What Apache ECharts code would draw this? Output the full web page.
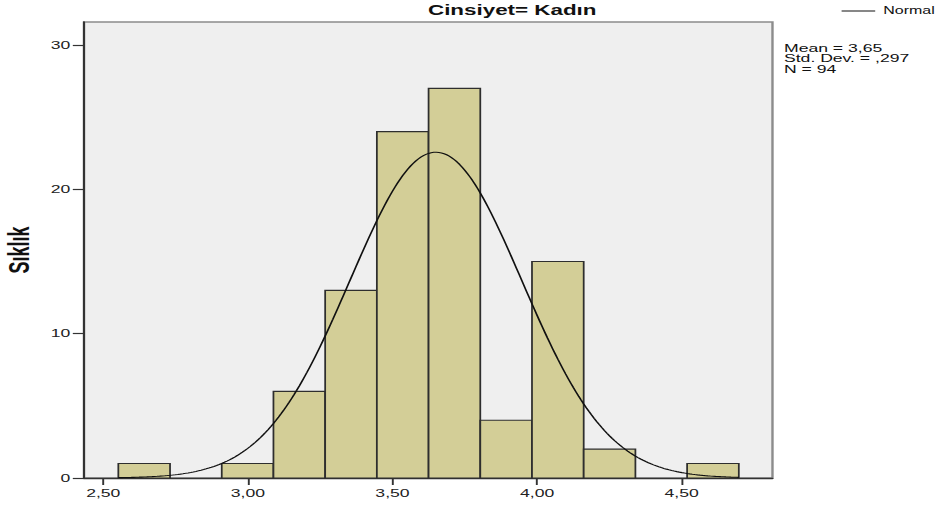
<!DOCTYPE html>
<html>
<head>
<meta charset="utf-8">
<script src="https://cdn.jsdelivr.net/npm/echarts@6/dist/echarts.min.js"></script>
<style>
  html, body { margin: 0; padding: 0; background: #ffffff; overflow: hidden; }
  /* the chart is laid out narrow and widened to the page width */
  #chart { width: 590px; height: 508px; transform: scaleX(1.6); transform-origin: 0 0; }
</style>
</head>
<body>
<div id="chart"></div>
<script>
// Histogram for the "Kadın" group with its fitted normal curve
const groupTitle = 'Cinsiyet= Kadın';
const yAxisName = 'Sıklık';
const binStart = 2.552;
const binWidth = 0.1788;
const binCounts = [1, 0, 1, 6, 13, 24, 27, 4, 15, 2, 0, 1];
const xTickValues = [2.5, 3.0, 3.5, 4.0, 4.5];
const yTickValues = [0, 10, 20, 30];
const meanValue = 3.65;
const stdDevValue = 0.297;
const sampleSize = 94;

const FONT = "'Liberation Sans', Arial, sans-serif";

// [lower edge, upper edge, count] for each bin
const bins = binCounts.map((c, i) => [binStart + i * binWidth, binStart + (i + 1) * binWidth, c]);

// Normal density from the stated mean / std. dev., scaled to the bin counts
const binEnd = binStart + binCounts.length * binWidth;
const peak = sampleSize * binWidth / (stdDevValue * Math.sqrt(2 * Math.PI));
const curve = [];
for (let i = 0; i <= 240; i++) {
  const x = binStart + (binEnd - binStart) * i / 240;
  const z = (x - meanValue) / stdDevValue;
  curve.push([x, peak * Math.exp(-0.5 * z * z)]);
}

const comma = s => s.replace('.', ',');
const statsText = [
  'Mean = ' + comma(meanValue.toFixed(2)),
  'Std. Dev. = ' + comma(stdDevValue.toFixed(3).replace(/^0/, '')),
  'N = ' + sampleSize
].join('\n');

const chart = echarts.init(document.getElementById('chart'), null, { renderer: 'svg' });

chart.setOption({
  animation: false,
  backgroundColor: '#ffffff',
  title: [
    {
      text: groupTitle,
      left: 267.5, top: 3, padding: 0,
      textStyle: { fontFamily: FONT, fontSize: 14, fontWeight: 'bold', color: '#111' }
    },
    {
      text: statsText,
      left: 490, top: 43, padding: 0,
      textStyle: { fontFamily: FONT, fontSize: 11, fontWeight: 'normal', color: '#111', lineHeight: 10.5 }
    }
  ],
  legend: {
    data: [{ name: 'Normal', icon: 'rect', itemStyle: { color: '#111' } }],
    left: 526, top: 6, padding: 0,
    itemWidth: 21, itemHeight: 1,
    textStyle: { fontFamily: FONT, fontSize: 10, color: '#111' }
  },
  grid: {
    left: 52.5, right: 107.2, top: 22, bottom: 30,
    outerBoundsMode: 'none',
    containLabel: false,
    show: true, backgroundColor: '#efefef',
    borderColor: '#8c8c8c', borderWidth: 1.5
  },
  xAxis: {
    type: 'value',
    min: 2.4333, max: 4.814,
    axisLine: { show: true, onZero: false, lineStyle: { color: '#333', width: 1.3 } },
    axisTick: { show: true, length: 7, customValues: xTickValues, lineStyle: { color: '#333', width: 1.2 } },
    axisLabel: {
      customValues: xTickValues, margin: 9.5,
      fontFamily: FONT, fontSize: 11, color: '#222',
      formatter: v => comma(v.toFixed(2))
    },
    splitLine: { show: false }
  },
  yAxis: {
    type: 'value',
    min: 0, max: 31.6,
    name: yAxisName,
    nameLocation: 'middle', nameRotate: 90, nameGap: 26.5,
    nameTextStyle: { fontFamily: FONT, fontSize: 18, fontWeight: 'bold', color: '#111' },
    axisLine: { show: true, lineStyle: { color: '#333', width: 1.3 } },
    axisTick: { show: true, length: 7, customValues: yTickValues, lineStyle: { color: '#333', width: 1.2 } },
    axisLabel: {
      customValues: yTickValues, margin: 8.5,
      fontFamily: FONT, fontSize: 11, color: '#222'
    },
    splitLine: { show: false }
  },
  series: [
    {
      name: 'Frequency',
      type: 'custom',
      data: bins,
      encode: { x: [0, 1], y: 2 },
      renderItem: (params, api) => {
        if (api.value(2) <= 0) return null;
        const topLeft = api.coord([api.value(0), api.value(2)]);
        const bottomRight = api.coord([api.value(1), 0]);
        return {
          type: 'rect',
          shape: {
            x: topLeft[0], y: topLeft[1],
            width: bottomRight[0] - topLeft[0],
            height: bottomRight[1] - topLeft[1]
          },
          style: { fill: '#d3ce97', stroke: '#2e2e2e', lineWidth: 1.1 }
        };
      },
      z: 2
    },
    {
      name: 'Normal',
      type: 'line',
      data: curve,
      symbol: 'none',
      smooth: false,
      itemStyle: { color: '#111' },
      lineStyle: { color: '#111', width: 1.1 },
      z: 3
    }
  ]
});
</script>
</body>
</html>
